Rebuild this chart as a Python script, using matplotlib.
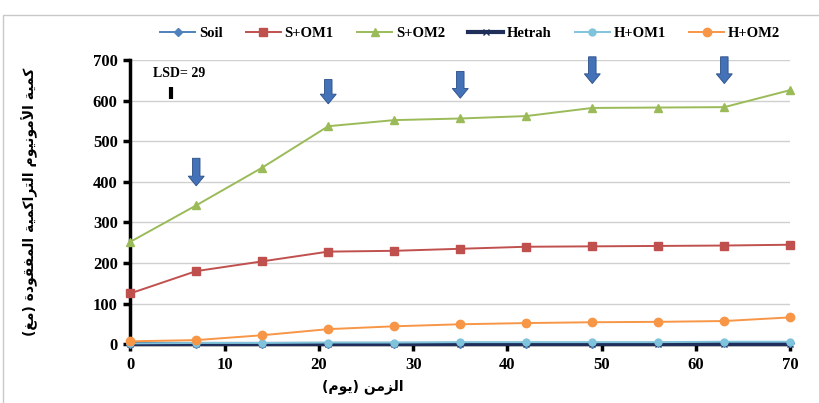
import matplotlib
matplotlib.use("Agg")
import matplotlib.pyplot as plt
from matplotlib.patches import FancyArrow, Rectangle

# sampling days and cumulative ammonium loss per treatment
days = [0, 7, 14, 21, 28, 35, 42, 49, 56, 63, 70]
soil = [1, 1, 1, 1, 1, 1, 1, 1, 2, 2, 2]
s_om1 = [125, 180, 204, 228, 230, 235, 240, 241, 242, 243, 245]
s_om2 = [252, 342, 435, 537, 552, 556, 562, 582, 583, 584, 626]
hetrah = [0, 0, 0, 0, 0, 0, 0, 0, 0, 0, 0]
h_om1 = [2, 3, 3, 4, 4, 5, 5, 5, 5, 6, 6]
h_om2 = [7, 10, 22, 37, 44, 49, 52, 54, 55, 57, 66]

# fertiliser application days (arrow x, arrow top, arrow tip)
arrow_days = [7, 21, 35, 49, 63]
arrow_tops = [458, 652, 672, 708, 708]
arrow_tips = [390, 592, 606, 642, 642]

lsd_value = 29
lsd_day = 4.3
lsd_base = 604

y_label = "كمية الأمونيوم التراكمية المفقودة (مغ)"
x_label = "الزمن (يوم)"

# (isolated, final, initial, medial); right-joining letters only have two forms
FORMS = {
    "ا": ("\uFE8D", "\uFE8E"),
    "أ": ("\uFE83", "\uFE84"),
    "د": ("\uFEA9", "\uFEAA"),
    "ر": ("\uFEAD", "\uFEAE"),
    "ز": ("\uFEAF", "\uFEB0"),
    "و": ("\uFEED", "\uFEEE"),
    "ة": ("\uFE93", "\uFE94"),
    "ك": ("\uFED9", "\uFEDA", "\uFEDB", "\uFEDC"),
    "م": ("\uFEE1", "\uFEE2", "\uFEE3", "\uFEE4"),
    "ي": ("\uFEF1", "\uFEF2", "\uFEF3", "\uFEF4"),
    "ل": ("\uFEDD", "\uFEDE", "\uFEDF", "\uFEE0"),
    "ن": ("\uFEE5", "\uFEE6", "\uFEE7", "\uFEE8"),
    "ت": ("\uFE95", "\uFE96", "\uFE97", "\uFE98"),
    "ف": ("\uFED1", "\uFED2", "\uFED3", "\uFED4"),
    "ق": ("\uFED5", "\uFED6", "\uFED7", "\uFED8"),
    "غ": ("\uFECD", "\uFECE", "\uFECF", "\uFED0"),
    "لا": ("\uFEFB", "\uFEFC"),
    "لأ": ("\uFEF7", "\uFEF8"),
}


def shape_arabic(text):
    # merge lam-alef pairs first
    units = []
    i = 0
    while i < len(text):
        pair = text[i:i + 2]
        if pair in ("لا", "لأ"):
            units.append(pair)
            i += 2
        else:
            units.append(text[i])
            i += 1
    out = []
    for k, u in enumerate(units):
        if u not in FORMS:
            out.append(u)
            continue
        prev = units[k - 1] if k > 0 else None
        nxt = units[k + 1] if k + 1 < len(units) else None
        joins_prev = prev in FORMS and len(FORMS[prev]) == 4
        joins_next = len(FORMS[u]) == 4 and nxt in FORMS
        f = FORMS[u]
        if joins_prev and joins_next:
            out.append(f[3])
        elif joins_prev:
            out.append(f[1])
        elif joins_next:
            out.append(f[2])
        else:
            out.append(f[0])
    visual = "".join(reversed(out))
    return visual.translate(str.maketrans("()", ")("))


plt.rcParams["font.family"] = ["Liberation Serif", "DejaVu Sans"]

fig = plt.figure(figsize=(8.19, 4.03), dpi=100)
ax = fig.add_axes([0.159, 0.146, 0.806, 0.705])

fig.patches.append(Rectangle((0.004, -0.01), 1.2, 0.973, transform=fig.transFigure,
                             fill=False, edgecolor="#c8c8c8", linewidth=1.0))

series = [
    ("Soil", soil, "#4F81BD", "D", 4),
    ("S+OM1", s_om1, "#C0504D", "s", 6),
    ("S+OM2", s_om2, "#9BBB59", "^", 6),
    ("Hetrah", hetrah, "#1F2F5A", "x", 5),
    ("H+OM1", h_om1, "#7FC4DC", "o", 5),
    ("H+OM2", h_om2, "#F79646", "o", 6),
]

handles = []
for name, vals, color, marker, ms in series:
    lw = 3.0 if name == "Hetrah" else 1.4
    (h,) = ax.plot(days, vals, color=color, marker=marker, markersize=ms,
                   linewidth=lw, label=name, clip_on=False, zorder=3)
    handles.append(h)

for x, top, tip in zip(arrow_days, arrow_tops, arrow_tips):
    ax.add_patch(FancyArrow(x, top, 0, tip - top, width=0.8, head_width=1.7,
                            head_length=24, length_includes_head=True,
                            facecolor="#4472B8", edgecolor="#2A4E85",
                            linewidth=0.6, clip_on=False, zorder=4))

ax.text(2.4, 667, f"LSD= {lsd_value}", fontsize=10, fontweight="bold",
        ha="left", va="center")
ax.plot([lsd_day, lsd_day], [lsd_base, lsd_base + lsd_value], color="black",
        linewidth=3, solid_capstyle="butt")

ax.set_xlim(0, 70)
ax.set_ylim(0, 700)
ax.set_xticks(range(0, 71, 10))
ax.set_yticks(range(0, 701, 100))
ax.yaxis.grid(True, color="#d0d0d0", linewidth=1.0)
ax.set_axisbelow(True)
for side in ("top", "right"):
    ax.spines[side].set_visible(False)
ax.spines["left"].set_linewidth(2.5)
ax.spines["bottom"].set_linewidth(2.5)
ax.tick_params(axis="both", direction="out", length=5, width=2.5,
               labelsize=12, pad=4)
for lab in ax.get_xticklabels() + ax.get_yticklabels():
    lab.set_fontweight("bold")

ax.set_xlabel(shape_arabic(x_label), fontsize=10, fontweight="bold",
              family="DejaVu Sans")
ax.xaxis.set_label_coords(0.353, -0.125)
ax.set_ylabel(shape_arabic(y_label), fontsize=10, fontweight="bold",
              family="DejaVu Sans")
ax.yaxis.set_label_coords(-0.14, 0.5)

fig.legend(handles=handles, loc="center", bbox_to_anchor=(0.574, 0.918),
           ncol=6, frameon=False, handlelength=2.4,
           columnspacing=1.6, handletextpad=0.25,
           prop={"weight": "bold", "size": 10.5})

fig.savefig("out.png", dpi=100, facecolor="white")
